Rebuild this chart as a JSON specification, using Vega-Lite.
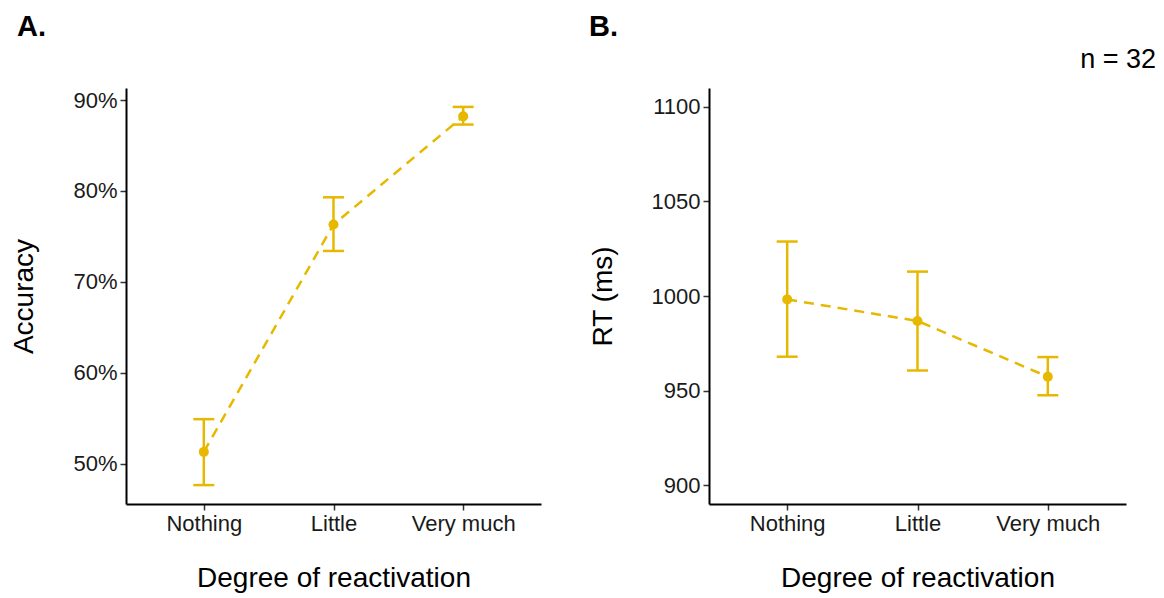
{
  "$schema": "https://vega.github.io/schema/vega-lite/v6.json",
  "background": "white",
  "padding": {"left": 10, "top": 13, "right": 5, "bottom": 4},
  "datasets": {
    "acc": [
      {"cond": "Nothing", "mean": 0.513, "lo": 0.4765, "hi": 0.549},
      {"cond": "Little", "mean": 0.763, "lo": 0.734, "hi": 0.793},
      {"cond": "Very much", "mean": 0.882, "lo": 0.873, "hi": 0.8924}
    ],
    "rt": [
      {"cond": "Nothing", "mean": 998.2, "lo": 967.9, "hi": 1028.8},
      {"cond": "Little", "mean": 986.8, "lo": 960.6, "hi": 1012.9},
      {"cond": "Very much", "mean": 957.3, "lo": 947.5, "hi": 967.7}
    ]
  },
  "config": {
    "view": {"stroke": null},
    "font": "Liberation Sans",
    "axis": {
      "domainColor": "black", "domainWidth": 2, "tickColor": "#333", "tickWidth": 1.5, "tickSize": 6,
      "labelFontSize": 22, "labelColor": "#1a1a1a", "labelFont": "Liberation Sans",
      "titleFontSize": 28, "titleFontWeight": "normal", "titleColor": "black", "titleFont": "Liberation Sans",
      "grid": false
    },
    "axisX": {"labelAngle": 0, "labelPadding": 3, "titlePadding": 30},
    "axisY": {"labelPadding": 3, "titlePadding": 34}
  },
  "spacing": 48,
  "hconcat": [
    {
      "title": {"text": "A.", "anchor": "start", "frame": "bounds", "fontSize": 29, "fontWeight": "bold", "offset": 4, "dx": 6, "color": "black"},
      "vconcat": [
        {
          "title": {"text": " ", "anchor": "end", "frame": "group", "fontSize": 27, "fontWeight": "normal", "offset": 14},
          "width": 415,
          "height": 416,
          "data": {"name": "acc"},
          "encoding": {
            "x": {"field": "cond", "type": "nominal", "sort": ["Nothing", "Little", "Very much"], "scale": {"type": "point", "padding": 0.6}, "axis": {"title": "Degree of reactivation"}}
          },
          "layer": [
            {
              "mark": {"type": "line", "color": "#E7B800", "strokeWidth": 2.5, "strokeDash": [10, 7]},
              "encoding": {"y": {"field": "mean", "type": "quantitative", "title": "Accuracy", "scale": {"domain": [0.4557, 0.9132], "nice": false, "zero": false}, "axis": {"values": [0.5, 0.6, 0.7, 0.8, 0.9], "format": ".0%"}}}
            },
            {
              "mark": {"type": "rule", "color": "#E7B800", "strokeWidth": 2.5},
              "encoding": {"y": {"field": "lo", "type": "quantitative", "title": "Accuracy"}, "y2": {"field": "hi"}}
            },
            {
              "mark": {"type": "tick", "color": "#E7B800", "size": 21, "thickness": 2.5, "opacity": 1},
              "encoding": {"y": {"field": "hi", "type": "quantitative", "title": "Accuracy"}}
            },
            {
              "mark": {"type": "tick", "color": "#E7B800", "size": 21, "thickness": 2.5, "opacity": 1},
              "encoding": {"y": {"field": "lo", "type": "quantitative", "title": "Accuracy"}}
            },
            {
              "mark": {"type": "circle", "color": "#E7B800", "size": 100, "opacity": 1},
              "encoding": {"y": {"field": "mean", "type": "quantitative", "title": "Accuracy"}}
            }
          ]
        }
      ]
    },
    {
      "title": {"text": "B.", "anchor": "start", "frame": "bounds", "fontSize": 29, "fontWeight": "bold", "offset": 4, "dx": 0, "color": "black"},
      "vconcat": [
        {
          "title": {"text": "n = 32", "anchor": "end", "frame": "group", "fontSize": 27, "fontWeight": "normal", "offset": 14, "dx": 30, "color": "black"},
          "width": 417,
          "height": 416,
          "data": {"name": "rt"},
          "encoding": {
            "x": {"field": "cond", "type": "nominal", "sort": ["Nothing", "Little", "Very much"], "scale": {"type": "point", "padding": 0.6}, "axis": {"title": "Degree of reactivation"}}
          },
          "layer": [
            {
              "mark": {"type": "line", "color": "#E7B800", "strokeWidth": 2.5, "strokeDash": [10, 7]},
              "encoding": {"y": {"field": "mean", "type": "quantitative", "title": "RT (ms)", "scale": {"domain": [890, 1110], "nice": false, "zero": false}, "axis": {"values": [900, 950, 1000, 1050, 1100], "format": "d"}}}
            },
            {
              "mark": {"type": "rule", "color": "#E7B800", "strokeWidth": 2.5},
              "encoding": {"y": {"field": "lo", "type": "quantitative", "title": "RT (ms)"}, "y2": {"field": "hi"}}
            },
            {
              "mark": {"type": "tick", "color": "#E7B800", "size": 21, "thickness": 2.5, "opacity": 1},
              "encoding": {"y": {"field": "hi", "type": "quantitative", "title": "RT (ms)"}}
            },
            {
              "mark": {"type": "tick", "color": "#E7B800", "size": 21, "thickness": 2.5, "opacity": 1},
              "encoding": {"y": {"field": "lo", "type": "quantitative", "title": "RT (ms)"}}
            },
            {
              "mark": {"type": "circle", "color": "#E7B800", "size": 100, "opacity": 1},
              "encoding": {"y": {"field": "mean", "type": "quantitative", "title": "RT (ms)"}}
            }
          ]
        }
      ]
    }
  ]
}
